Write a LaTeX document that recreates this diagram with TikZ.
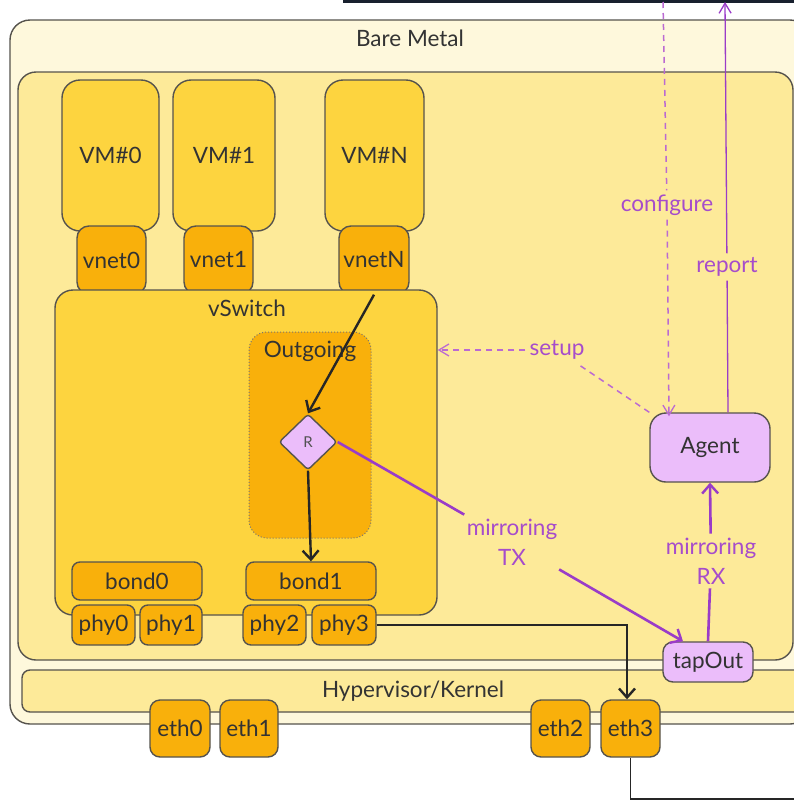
\documentclass[tikz,border=0pt]{standalone}
\usepackage{fontspec}
\setmainfont{Lato}
\usetikzlibrary{arrows.meta,shapes.geometric}
\definecolor{bareFill}{HTML}{FEF8DC}
\definecolor{hostFill}{HTML}{FDEA99}
\definecolor{vmFill}{HTML}{FDD43F}
\definecolor{portFill}{HTML}{F9B00B}
\definecolor{agentFill}{HTML}{EBBDFA}
\definecolor{edgeGrey}{HTML}{56534D}
\definecolor{ink}{HTML}{333333}
\definecolor{ctl}{HTML}{9A3CC8}
\definecolor{ctlText}{HTML}{A64CCB}
\definecolor{ctlDash}{HTML}{BB6AD2}
\definecolor{navy}{HTML}{18202E}
\begin{document}
\begin{tikzpicture}[x=1pt,y=-1pt,
  every node/.style={text=ink, font=\fontsize{22.5}{26}\selectfont, inner sep=0pt},
  box/.style={draw=edgeGrey, line width=1.4pt},
  vmbox/.style={box, fill=vmFill, rounded corners=18pt},
  port/.style={box, fill=portFill, rounded corners=10pt},
  purp/.style={box, fill=agentFill, rounded corners=12pt},
  lbl/.style={text=ctlText, align=center, font=\fontsize{22.5}{30}\selectfont},
  flow/.style={draw=black!85, line width=2.4pt, -{Straight Barb[length=9pt,width=16pt,line width=2.4pt]}},
  mirror/.style={draw=ctl, line width=2.6pt},
  mirrorarrow/.style={mirror, -{Straight Barb[length=9pt,width=16pt,line width=2.4pt]}},
  ctldash/.style={draw=ctlDash, line width=1.5pt, dash pattern=on 6pt off 5pt},
  ctlarrow/.style={-{Straight Barb[length=10pt,width=12pt,line width=1.3pt]}}
]
\useasboundingbox (0,0) rectangle (794,801);
\clip (0,0) rectangle (794,801);
\fill[white] (0,0) rectangle (794,801);
\fill[navy] (343,0) rectangle (794,3);

% containers
\node[box, fill=bareFill, rounded corners=20pt, minimum width=800pt, minimum height=704pt] (bare) at (410,372) {};
\node (bareLbl) at (410,38) {Bare Metal};
\node[box, fill=hostFill, rounded corners=18pt, minimum width=775pt, minimum height=588pt] (host) at (405.5,366) {};
\node[box, fill=hostFill, rounded corners=8pt, minimum width=788pt, minimum height=42pt] (hyper) at (416,691) {};
\node (hyperLbl) at (413,691) {Hypervisor/Kernel};

% virtual machines and their interfaces
\node[vmbox, minimum width=97pt, minimum height=151pt] (vm0) at (110.5,155.5) {VM\#0};
\node[vmbox, minimum width=102pt, minimum height=151pt] (vm1) at (224,155.5) {VM\#1};
\node[vmbox, minimum width=99pt, minimum height=151pt] (vmN) at (374.5,155.5) {VM\#N};
\node[port, rounded corners=12pt, minimum width=69pt, minimum height=68pt] (vnet0) at (111.5,260) {vnet0};
\node[port, rounded corners=12pt, minimum width=69pt, minimum height=68pt] (vnet1) at (218.5,260) {vnet1};
\node[port, rounded corners=12pt, minimum width=70pt, minimum height=68pt] (vnetN) at (374,260) {vnetN};

% vSwitch
\node[vmbox, minimum width=382pt, minimum height=325pt] (vswitch) at (246,452.5) {};
\node (vswitchLbl) at (247,308) {vSwitch};
\node[fill=portFill, draw=edgeGrey!80, line width=1pt, dotted, rounded corners=18pt, minimum width=122pt, minimum height=206pt] (outgoing) at (310,435) {};
\node (outgoingLbl) at (310,351) {Outgoing};
\node[diamond, box, fill=agentFill, rounded corners=3pt, minimum width=58pt, minimum height=56pt, font=\fontsize{15}{17}\selectfont, text=ink!85] (R) at (308,442) {R};
\node[port, rounded corners=8pt, minimum width=130pt, minimum height=38pt] (bond0) at (137,581) {bond0};
\node[port, rounded corners=8pt, minimum width=130pt, minimum height=38pt] (bond1) at (311,581) {bond1};
\node[port, rounded corners=8pt, minimum width=63pt, minimum height=40pt] (phy0) at (103.5,625) {phy0};
\node[port, rounded corners=8pt, minimum width=62pt, minimum height=40pt] (phy1) at (171,625) {phy1};
\node[port, rounded corners=8pt, minimum width=63pt, minimum height=40pt] (phy2) at (274.5,625) {phy2};
\node[port, rounded corners=8pt, minimum width=64pt, minimum height=40pt] (phy3) at (344,625) {phy3};

% physical NICs
\node[port, minimum width=60pt, minimum height=57pt] (eth0) at (180,728.5) {eth0};
\node[port, minimum width=58pt, minimum height=57pt] (eth1) at (249,728.5) {eth1};
\node[port, minimum width=59pt, minimum height=57pt] (eth2) at (560.5,728.5) {eth2};
\node[port, minimum width=59pt, minimum height=57pt] (eth3) at (630.5,728.5) {eth3};

% agent side
\node[purp, rounded corners=16pt, minimum width=120pt, minimum height=69pt] (agent) at (710,447.5) {Agent};
\node[purp, rounded corners=10pt, minimum width=90pt, minimum height=40pt] (tapOut) at (708,662) {tapOut};

% labels on connectors
\node[lbl, inner sep=4pt] (configureLbl) at (667,205) {configure};
\node[lbl, inner sep=4pt] (reportLbl) at (727,267) {report};
\node[lbl, inner sep=4pt] (setupLbl) at (557,350) {setup};
\node[lbl, inner sep=4pt] (mtxLbl) at (512,542) {mirroring\\TX};
\node[lbl, inner sep=4pt] (mrxLbl) at (711,561) {mirroring\\RX};

\coordinate (topCfg) at (663,2);
\coordinate (topReport) at (725,2);
\coordinate (wireEnd) at (800,799);

% packet path
\draw[flow] (vnetN.south) -- (R.north);
\draw[flow] (R.south) -- (bond1.north);
\draw[flow] (phy3.east) -| ([xshift=-3.5pt]eth3.north);
\draw[black!85, line width=1.6pt] (eth3.south) |- (wireEnd);

% mirroring
\draw[mirror] (R.east) -- (mtxLbl);
\draw[mirrorarrow] (mtxLbl) -- ([xshift=-25pt]tapOut.north);
\draw[mirror] (tapOut.north) -- (mrxLbl);
\draw[mirrorarrow] (mrxLbl) -- (agent.south);

% control plane
\draw[draw=ctl, line width=1.3pt] ([xshift=18pt]agent.north) -- (reportLbl);
\draw[draw=ctl, line width=1.3pt, ctlarrow] (reportLbl) -- (topReport);
\draw[ctldash] (topCfg) -- (configureLbl);
\draw[ctldash, ctlarrow] (configureLbl) -- ([xshift=-41pt,yshift=-4pt]agent.north);
\draw[ctldash] (agent.north west) -- (setupLbl);
\draw[ctldash, ctlarrow] (setupLbl) -- (vswitch.east |- setupLbl);
\end{tikzpicture}
\end{document}
